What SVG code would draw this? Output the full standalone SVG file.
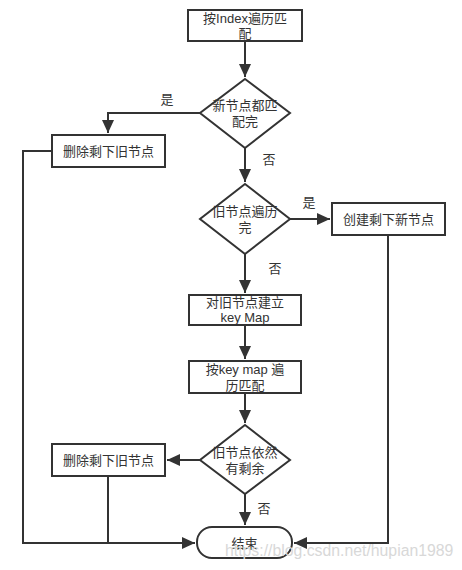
<svg xmlns="http://www.w3.org/2000/svg" width="462" height="570" viewBox="0 0 462 570">
<style>
.box{fill:#fff;stroke:#333;stroke-width:2}
.ln{fill:none;stroke:#333;stroke-width:2}
text{font-family:"Liberation Sans","Noto Sans CJK SC",sans-serif;font-size:13px;fill:#333;text-anchor:middle}
.wm{font-size:15.8px;fill:#d8d8d8;text-anchor:start}
</style>
<defs>
<marker id="ah" markerUnits="userSpaceOnUse" markerWidth="14" markerHeight="12" refX="13" refY="6" orient="auto">
<path d="M0,0 L13,6 L0,12 Z" fill="#333"/>
</marker>
</defs>
<rect width="462" height="570" fill="#fff"/>
<g id="connectors">
<path class="ln" d="M245,41 V77" marker-end="url(#ah)"/>
<path class="ln" d="M200,113 H108 V133" marker-end="url(#ah)"/>
<path class="ln" d="M245,148 V182" marker-end="url(#ah)"/>
<path class="ln" d="M290,219 H330" marker-end="url(#ah)"/>
<path class="ln" d="M245,254 V293" marker-end="url(#ah)"/>
<path class="ln" d="M245,325 V359" marker-end="url(#ah)"/>
<path class="ln" d="M245,393 V423" marker-end="url(#ah)"/>
<path class="ln" d="M200,460 H167" marker-end="url(#ah)"/>
<path class="ln" d="M245,494 V525" marker-end="url(#ah)"/>
<path class="ln" d="M52,151 H23 V543 H195" marker-end="url(#ah)"/>
<path class="ln" d="M108,476 V543"/>
<path class="ln" d="M388,235 V543 H294" marker-end="url(#ah)"/>
<text x="167" y="104">是</text>
<text x="269" y="164">否</text>
<text x="309" y="207">是</text>
<text x="275" y="273">否</text>
<text x="264" y="513">否</text>
</g>
<g id="n1"><rect class="box" x="188" y="10" width="114" height="31"/><text x="245" y="23">按Index遍历匹</text><text x="245" y="38">配</text></g>
<g id="d1"><polygon class="box" points="245,79 290,113 245,148 200,113"/><text x="245" y="110">新节点都匹</text><text x="245" y="126">配完</text></g>
<g id="n2"><rect class="box" x="52" y="135" width="113" height="32"/><text x="108.5" y="156">删除剩下旧节点</text></g>
<g id="d2"><polygon class="box" points="245,184 290,219 245,254 200,219"/><text x="245" y="216">旧节点遍历</text><text x="245" y="232">完</text></g>
<g id="n3"><rect class="box" x="332" y="203" width="113" height="32"/><text x="388.5" y="224">创建剩下新节点</text></g>
<g id="n4"><rect class="box" x="189" y="295" width="112" height="30"/><text x="245" y="307">对旧节点建立</text><text x="245" y="322">key Map</text></g>
<g id="n5"><rect class="box" x="189" y="361" width="112" height="32"/><text x="245" y="374">按key map 遍</text><text x="245" y="390">历匹配</text></g>
<g id="d3"><polygon class="box" points="245,425 290,460 245,494 200,460"/><text x="245" y="457">旧节点依然</text><text x="245" y="473">有剩余</text></g>
<g id="n6"><rect class="box" x="52" y="444" width="113" height="32"/><text x="108.5" y="465">删除剩下旧节点</text></g>
<g id="end"><rect class="box" x="197" y="527" width="95" height="31" rx="15" ry="15"/><text x="244.5" y="548">结束</text></g>
<text class="wm" x="225" y="556">https://blog.csdn.net/hupian1989</text>
</svg>
